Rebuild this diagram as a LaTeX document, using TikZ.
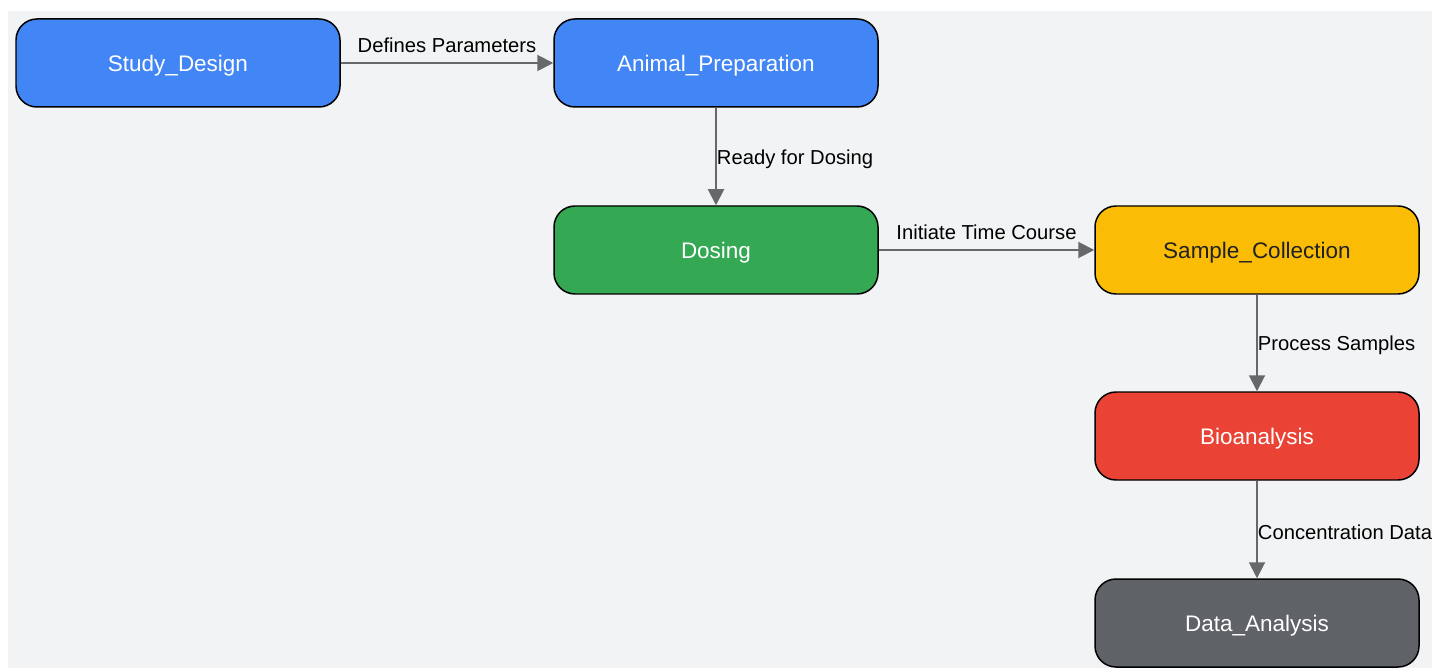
\documentclass[tikz,border=0pt]{standalone}
\usepackage{fontspec}
\setmainfont{Liberation Sans}
\usepackage{xcolor}
\usepackage{tikz}
\usetikzlibrary{arrows.meta}
\definecolor{PKBack}{HTML}{F1F3F4}
\definecolor{PKBlue}{HTML}{4285F4}
\definecolor{PKGreen}{HTML}{34A853}
\definecolor{PKYellow}{HTML}{FBBC05}
\definecolor{PKRed}{HTML}{EA4335}
\definecolor{PKGrey}{HTML}{5F6368}
\definecolor{PKInk}{HTML}{202124}
\definecolor{PKEdge}{HTML}{66686C}

\begin{document}
\begin{tikzpicture}[x=1cm,y=1cm,
  stage/.style={draw=black,line width=.85pt,rounded corners=0.42cm,minimum width=6.48cm,minimum height=1.76cm,text height=9.6pt,text depth=0pt,font=\fontsize{12.8}{15}\selectfont,text=white},
  flow/.style={draw=PKEdge,line width=1.1pt,-{Triangle[length=0.32cm,width=0.32cm]}},
  flowlabel/.style={font=\fontsize{11.5}{14}\selectfont,text=black},
  sidelabel/.style={flowlabel,anchor=west,inner xsep=0pt,yshift=-1.4pt}]
\path[use as bounding box] (0,0) rectangle (28.64,13.36);
\fill[PKBack] (0.16,0) rectangle (28.64,13.14);
\node[stage,fill=PKBlue] (design) at (3.56,12.10) {Study\_Design};
\node[stage,fill=PKBlue] (prep) at (14.32,12.10) {Animal\_Preparation};
\node[stage,fill=PKGreen] (dosing) at (14.32,8.36) {Dosing};
\node[stage,fill=PKYellow,text=PKInk] (sampling) at (25.14,8.36) {Sample\_Collection};
\node[stage,fill=PKRed] (bioanalysis) at (25.14,4.64) {Bioanalysis};
\node[stage,fill=PKGrey] (analysis) at (25.14,0.90) {Data\_Analysis};
\draw[flow] (design) -- node[flowlabel,above=2.2pt] {Defines Parameters} (prep);
\draw[flow] (prep) -- node[sidelabel] {Ready for Dosing} (dosing);
\draw[flow] (dosing) -- node[flowlabel,above=2.2pt] {Initiate Time Course} (sampling);
\draw[flow] (sampling) -- node[sidelabel] {Process Samples} (bioanalysis);
\draw[flow] (bioanalysis) -- node[sidelabel] {Concentration Data} (analysis);
\end{tikzpicture}
\end{document}
